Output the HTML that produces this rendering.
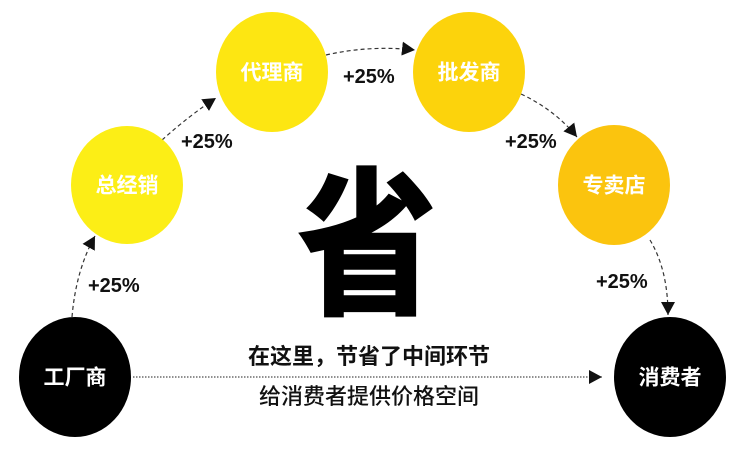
<!DOCTYPE html>
<html><head><meta charset="utf-8"><style>
body{margin:0;background:#fff;}
svg{display:block}
.c{font-family:"Liberation Sans","Noto Sans CJK SC",sans-serif;font-weight:700;font-size:21px;fill:#fff;text-anchor:middle;dominant-baseline:central}
.p{font-family:"Liberation Sans",sans-serif;font-weight:700;font-size:20px;fill:#111}
</style></head><body>
<svg width="750" height="468" viewBox="0 0 750 468">
<defs><marker id="b" markerWidth="14" markerHeight="14" refX="13" refY="7" orient="auto" markerUnits="userSpaceOnUse"><path d="M0,0 L13,7 L0,14z" fill="#111"/></marker></defs>
<g fill="none" stroke="#333" stroke-width="1.2" stroke-dasharray="4,3">
<path d="M72,317 Q76,270 95,236" marker-end="url(#b)"/>
<path d="M162,140 Q190,115 216,98" marker-end="url(#b)"/>
<path d="M326,55 Q370,45 415,50" marker-end="url(#b)"/>
<path d="M521,94 Q555,110 577,137" marker-end="url(#b)"/>
<path d="M650,240 Q668,270 668,315" marker-end="url(#b)"/>
</g>
<line x1="133" y1="377" x2="602" y2="377" stroke="#222" stroke-width="1" stroke-dasharray="1.5,1.5" marker-end="url(#b)"/>
<ellipse cx="75" cy="377" rx="56" ry="60" fill="#000"/>
<ellipse cx="127" cy="185" rx="56" ry="59" fill="#fcee16"/>
<ellipse cx="272" cy="72" rx="56" ry="60" fill="#fde612"/>
<ellipse cx="469" cy="72" rx="56" ry="60" fill="#fcd30c"/>
<ellipse cx="614" cy="185" rx="56" ry="60" fill="#fbc40e"/>
<ellipse cx="670" cy="377" rx="56" ry="60" fill="#000"/>
<text class="c" x="75" y="378">工厂商</text>
<text class="c" x="127" y="186">总经销</text>
<text class="c" x="272" y="73">代理商</text>
<text class="c" x="469" y="73">批发商</text>
<text class="c" x="614" y="186">专卖店</text>
<text class="c" x="670" y="378">消费者</text>
<text class="p" x="181" y="148">+25%</text>
<text class="p" x="343" y="83">+25%</text>
<text class="p" x="505" y="148">+25%</text>
<text class="p" x="88" y="292">+25%</text>
<text class="p" x="596" y="288">+25%</text>
<text x="367" y="302" font-family="'Noto Sans CJK SC',sans-serif" font-weight="900" font-size="160" fill="#000" text-anchor="middle" transform="translate(367,0) scale(0.88,1) translate(-367,0)">省</text>
<text x="369" y="364" font-family="'Noto Sans CJK SC',sans-serif" font-weight="700" font-size="22" fill="#111" text-anchor="middle">在这里，节省了中间环节</text>
<text x="369" y="404" font-family="'Noto Sans CJK SC',sans-serif" font-weight="500" font-size="22" fill="#111" text-anchor="middle">给消费者提供价格空间</text>
</svg>
</body></html>
